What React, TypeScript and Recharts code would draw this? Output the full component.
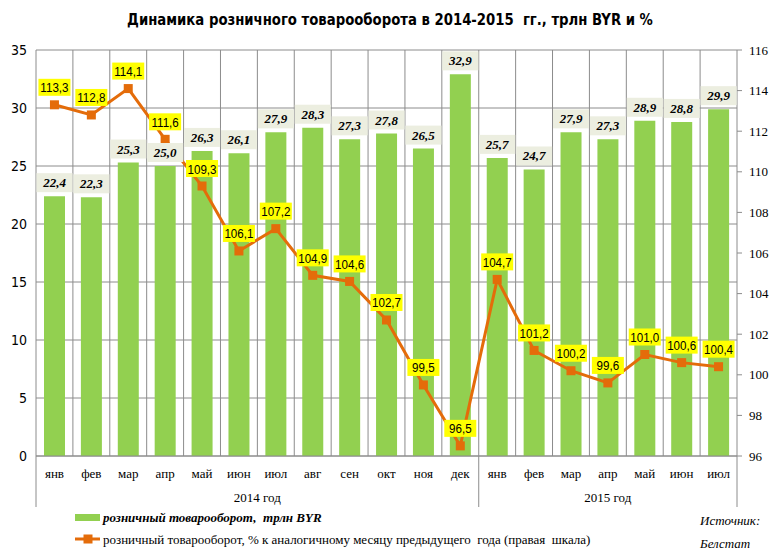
import React from 'react';
import { ComposedChart, Bar, Line, XAxis, YAxis, CartesianGrid, LabelList } from 'recharts';

const MONTHS = ['янв', 'фев', 'мар', 'апр', 'май', 'июн', 'июл', 'авг', 'сен', 'окт', 'ноя', 'дек',
  'янв', 'фев', 'мар', 'апр', 'май', 'июн', 'июл'];
const YEARS = ['2014 год', '2014 год', '2014 год', '2014 год', '2014 год', '2014 год', '2014 год',
  '2014 год', '2014 год', '2014 год', '2014 год', '2014 год',
  '2015 год', '2015 год', '2015 год', '2015 год', '2015 год', '2015 год', '2015 год'];
// розничный товарооборот, трлн BYR
const TURNOVER = [22.4, 22.3, 25.3, 25.0, 26.3, 26.1, 27.9, 28.3, 27.3, 27.8, 26.5, 32.9,
  25.7, 24.7, 27.9, 27.3, 28.9, 28.8, 29.9];
// % к аналогичному месяцу предыдущего года
const GROWTH = [113.3, 112.8, 114.1, 111.6, 109.3, 106.1, 107.2, 104.9, 104.6, 102.7, 99.5, 96.5,
  104.7, 101.2, 100.2, 99.6, 101.0, 100.6, 100.4];
const LEFT_TICKS = [0, 5, 10, 15, 20, 25, 30, 35];
const RIGHT_TICKS = [96, 98, 100, 102, 104, 106, 108, 110, 112, 114, 116];

const data = MONTHS.map((m, i) => ({ m, yr: YEARS[i], turnover: TURNOVER[i], growth: GROWTH[i] }));

const W = 780;
const H = 559;
const margin = { top: 50, right: 3, bottom: 52, left: 6 };
const PLOT_W = W - 36 - 43;
const BAND = PLOT_W / MONTHS.length;

const GRID = '#8c8c8c';
const GREEN = '#92d050';
const ORANGE = '#e46c0a';
const SERIF = '"Liberation Serif", "Times New Roman", serif';
const COND = '"DejaVu Sans Condensed", "DejaVu Sans", sans-serif';
const SANS = '"Liberation Sans", Arial, sans-serif';

const fmt = (v: number) => v.toFixed(1).replace('.', ',');

// month label + year grouping with separators, drawn from the axis ticks
function MonthTick(props: any) {
  const { x, y, payload, index } = props;
  const i = payload?.index ?? index;
  const yr = YEARS[i];
  const isStart = i === 0 || YEARS[i - 1] !== yr;
  const isLast = i === YEARS.length - 1;
  const groupSize = YEARS.filter((v) => v === yr).length;
  const left = x - BAND / 2;
  return (
    <g>
      <text x={x} y={y + 22} textAnchor="middle" fontFamily={SERIF} fontSize={13} fill="#000">
        {payload.value}
      </text>
      {isStart && <line x1={left} x2={left} y1={y} y2={y + 51} stroke={GRID} strokeWidth={1} />}
      {isLast && <line x1={x + BAND / 2} x2={x + BAND / 2} y1={y} y2={y + 51} stroke={GRID} strokeWidth={1} />}
      {isStart && (
        <text x={left + (groupSize * BAND) / 2} y={y + 46} textAnchor="middle" fontFamily={SERIF} fontSize={13} fill="#000">
          {yr}
        </text>
      )}
    </g>
  );
}

function BarLabel(props: any) {
  const { x, y, width, value } = props;
  const cx = x + width / 2;
  return (
    <g>
      <rect x={cx - 18} y={y - 23} width={36} height={19} fill="#eceee0" />
      <text x={cx} y={y - 9} textAnchor="middle" fontFamily={SERIF} fontWeight="bold" fontStyle="italic" fontSize={13} fill="#000">
        {fmt(value)}
      </text>
    </g>
  );
}

function LineLabel(props: any) {
  const { x, y, value } = props;
  return (
    <g>
      <rect x={x - 16} y={y - 26} width={32} height={17} fill="#ffff00" />
      <text
        transform={`translate(${x},${y - 12.5}) scale(0.86,1)`}
        textAnchor="middle"
        fontFamily={SANS}
        fontSize={13.5}
        fill="#000"
      >
        {fmt(value)}
      </text>
    </g>
  );
}

function SquareDot(props: any) {
  const { cx, cy } = props;
  if (cx == null || cy == null) return null;
  return <rect x={cx - 4.5} y={cy - 4.5} width={9} height={9} fill={ORANGE} />;
}

export default function App() {
  return (
    <div style={{ position: 'absolute', left: 0, top: 0, width: W, height: H, background: '#fff' }}>
      <div
        style={{
          position: 'absolute', left: 0, top: 10, width: W, textAlign: 'center',
          fontFamily: COND, fontWeight: 'bold', fontSize: 16, color: '#000',
          transform: 'scaleX(0.92)', transformOrigin: '390px 0',
        }}
      >
        Динамика розничного товарооборота в 2014-2015&nbsp; гг., трлн BYR и %
      </div>
      <ComposedChart width={W} height={H} data={data} margin={margin}>
        <CartesianGrid
          yAxisId="l"
          stroke={GRID}
          strokeWidth={1}
          horizontal
          vertical
          verticalCoordinatesGenerator={({ offset }: any) =>
            MONTHS.slice(1).map((_, i) => offset.left + ((i + 1) * offset.width) / MONTHS.length)
          }
        />
        <XAxis
          dataKey="m"
          interval={0}
          tickSize={0}
          tickMargin={0}
          height={51}
          axisLine={{ stroke: GRID }}
          tickLine={false}
          tick={<MonthTick />}
        />
        <YAxis
          yAxisId="l"
          orientation="left"
          width={30}
          domain={[0, 35]}
          ticks={LEFT_TICKS}
          interval={0}
          axisLine={{ stroke: GRID }}
          tickLine={false}
          tickSize={0}
          tickMargin={9}
          tick={{ fontFamily: COND, fontSize: 14, fill: '#000' }}
        />
        <YAxis
          yAxisId="r"
          orientation="right"
          width={40}
          domain={[96, 116]}
          ticks={RIGHT_TICKS}
          interval={0}
          axisLine={{ stroke: GRID }}
          tickLine={{ stroke: GRID }}
          tickSize={5}
          tickMargin={7}
          tick={{ fontFamily: SERIF, fontSize: 13, fill: '#000', textAnchor: 'start' }}
        />
        <Bar yAxisId="l" dataKey="turnover" fill={GREEN} barSize={21} isAnimationActive={false}>
          <LabelList dataKey="turnover" content={<BarLabel />} />
        </Bar>
        <Line
          yAxisId="r"
          dataKey="growth"
          stroke={ORANGE}
          strokeWidth={3}
          dot={<SquareDot />}
          activeDot={false}
          isAnimationActive={false}
        >
          <LabelList dataKey="growth" content={<LineLabel />} />
        </Line>
      </ComposedChart>
      <svg style={{ position: 'absolute', left: 0, top: 0, pointerEvents: 'none' }} width={W} height={H}>
        <rect x={75} y={514} width={25} height={7} fill={GREEN} />
        <text x={103} y={522} fontFamily={SERIF} fontWeight="bold" fontStyle="italic" fontSize={13} fill="#000">
          розничный товарооборот,&#160; трлн BYR
        </text>
        <line x1={75} x2={100} y1={539} y2={539} stroke={ORANGE} strokeWidth={3} />
        <rect x={83.5} y={534.5} width={9} height={9} fill={ORANGE} />
        <text x={103} y={544} fontFamily={SERIF} fontSize={13} fill="#000">
          розничный товарооборот, % к аналогичному месяцу предыдущего&#160; года (правая&#160; шкала)
        </text>
        <text x={700} y={525} fontFamily={SERIF} fontStyle="italic" fontSize={13} fill="#000">Источник:</text>
        <text x={700} y={548} fontFamily={SERIF} fontStyle="italic" fontSize={13} fill="#000">Белстат</text>
      </svg>
    </div>
  );
}
